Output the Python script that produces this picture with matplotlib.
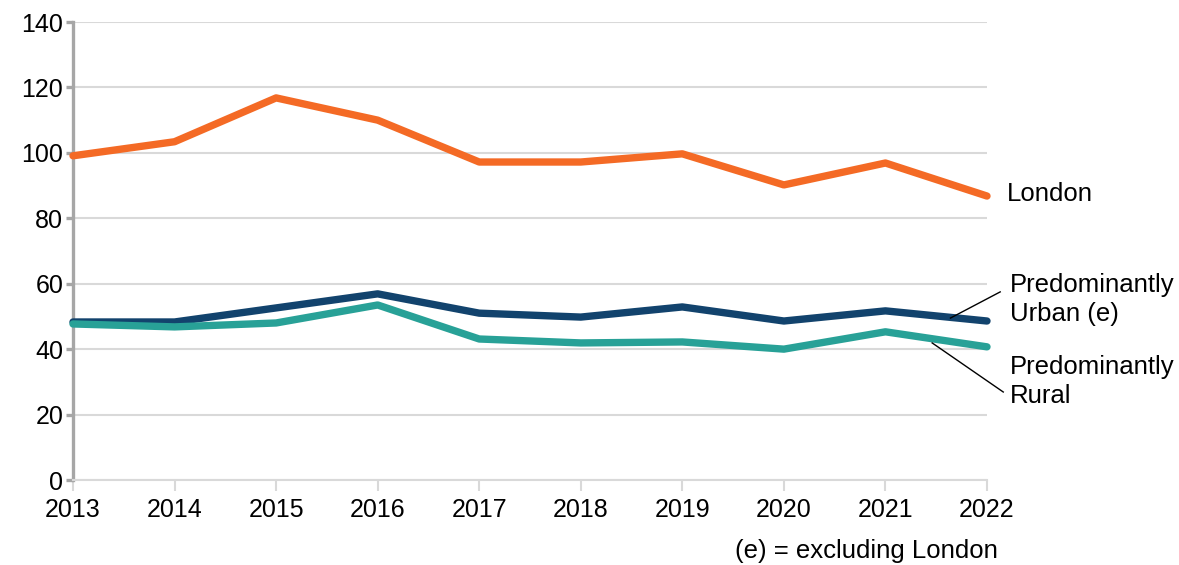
import matplotlib
matplotlib.use("Agg")
import matplotlib.pyplot as plt

years = [2013, 2014, 2015, 2016, 2017, 2018, 2019, 2020, 2021, 2022]
london = [99.1, 103.4, 116.8, 110.0, 97.2, 97.2, 99.7, 90.2, 96.9, 86.8]
urban = [48.3, 48.3, 52.6, 56.9, 51.0, 49.8, 52.9, 48.6, 51.7, 48.6]
rural = [47.7, 46.8, 48.0, 53.5, 43.1, 41.9, 42.2, 40.0, 45.3, 40.7]

series_names = ["London", "Predominantly\nUrban (e)", "Predominantly\nRural"]
colors = ["#F46A25", "#12436D", "#28A197"]
yticks = [0, 20, 40, 60, 80, 100, 120, 140]
footnote = "(e) = excluding London"

plt.rcParams['font.family'] = ['Liberation Sans', 'DejaVu Sans']

fig = plt.figure(figsize=(11.79, 5.65), dpi=100)
ax = fig.add_axes([73/1179, 85/565, (987-73)/1179, (480-22)/565])

for vals, c in zip([london, urban, rural], colors):
    ax.plot(years, vals, color=c, lw=5.3, solid_capstyle='round',
            solid_joinstyle='round', zorder=3, clip_on=False)

ax.set_xlim(2013, 2022)
ax.set_ylim(0, 140)
ax.set_yticks(yticks)
ax.set_xticks(years)
ax.set_xticklabels([str(y) for y in years])
ax.grid(axis='y', color='#D9D9D9', lw=1.5, zorder=0)
ax.set_axisbelow(True)

for s in ['top', 'right']:
    ax.spines[s].set_visible(False)
ax.spines['left'].set_color('#A6A6A6')
ax.spines['left'].set_linewidth(2.4)
ax.spines['bottom'].set_color('#D9D9D9')
ax.spines['bottom'].set_linewidth(1.5)
ax.tick_params(axis='y', length=5, width=2.4, color='#A6A6A6',
               labelsize=18, pad=2)
ax.tick_params(axis='x', length=8, width=1.5, color='#D9D9D9',
               labelsize=18, pad=5)

# Labels
ax.text(2022.20, 87.4, series_names[0], fontsize=18.5, ha='left', va='center')
ax.text(2022.23, 55.2, series_names[1], fontsize=18.5, ha='left', va='center',
        linespacing=1.25)
ax.text(2022.23, 30.2, series_names[2], fontsize=18.5, ha='left', va='center',
        linespacing=1.25)

# Leader lines
ax.plot([2021.64, 2022.13], [49.5, 57.5], color='black', lw=1, clip_on=False, zorder=4)
ax.plot([2021.46, 2022.16], [41.9, 26.9], color='black', lw=1, clip_on=False, zorder=4)

fig.text(998/1179, (565-551)/565, footnote, fontsize=18.5, ha='right', va='center')

fig.savefig("out.png", dpi=100)
